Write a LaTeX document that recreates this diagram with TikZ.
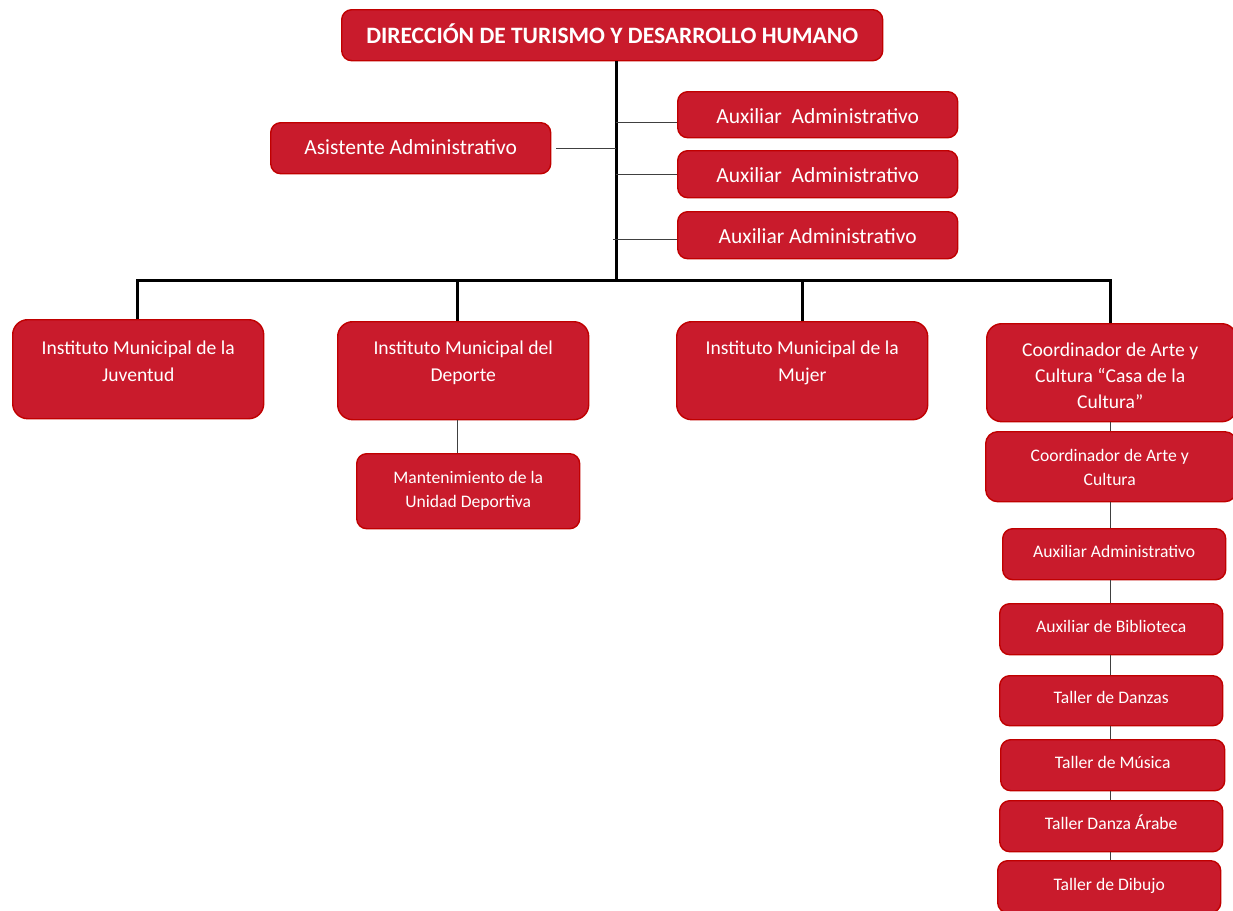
\documentclass[tikz,border=0pt]{standalone}
\usepackage{fontspec}
\setmainfont{Carlito}
\definecolor{boxred}{RGB}{201,27,44}
\definecolor{boxedge}{RGB}{192,0,0}
\newcommand\orgbox[6][10pt]{%
  \node[box, rounded corners=#1, anchor=north west, minimum width={#5-#3}, minimum height={#6-#4}] (#2) at (#3,#4) {};}
\begin{document}
\begin{tikzpicture}[x=1pt,y=-1pt,
  box/.style={draw=boxedge, fill=boxred, line width=1.4pt, inner sep=0pt},
  txt/.style={text=white, align=center, inner sep=0pt},
  ttl/.style={txt, font=\bfseries\fontsize{23.5}{28}\selectfont},
  big/.style={txt, font=\fontsize{19.6}{27}\selectfont},
  mid/.style={txt, font=\fontsize{21.5}{26}\selectfont},
  small/.style={txt, font=\fontsize{17.6}{24}\selectfont},
  trunk/.style={line width=3pt, black, line join=miter},
  thin/.style={line width=1pt, black!75}]
\useasboundingbox (0,0) rectangle (1233,910);

% boxes
\orgbox{top}{341}{9}{882}{60}
\orgbox{asis}{270}{122}{550}{173}
\orgbox{auxa}{677}{91}{957}{137}
\orgbox{auxb}{677}{150}{957}{197}
\orgbox{auxc}{677}{211}{957}{258}
\orgbox[15pt]{imj}{12}{319}{263}{418}
\orgbox[15pt]{imd}{337}{321}{588}{419}
\orgbox{mant}{356}{453}{579}{528}
\orgbox[15pt]{muj}{676}{321}{927}{419}
\orgbox[15pt]{casa}{986}{323}{1236}{421}
\orgbox[12pt]{coord}{985}{431}{1236}{501}
\orgbox{caux}{1002}{528}{1225}{579}
\orgbox{bib}{999}{603}{1222}{654}
\orgbox{danz}{999}{675}{1222}{725}
\orgbox{mus}{1000}{739}{1224}{790}
\orgbox{arab}{999}{800}{1222}{851}
\orgbox{dib}{997}{860}{1220}{912}

% texts
\node[ttl] (top-t) at ([yshift=1pt]top.center) {DIRECCIÓN DE TURISMO Y DESARROLLO HUMANO};
\node[mid] (asis-t) at ([yshift=1pt]asis.center) {Asistente Administrativo};
\node[mid] (auxa-t) at ([yshift=-1pt]auxa.center) {Auxiliar\ \ Administrativo};
\node[mid] (auxb-t) at ([yshift=-1pt]auxb.center) {Auxiliar\ \ Administrativo};
\node[mid] (auxc-t) at ([yshift=-1pt]auxc.center) {Auxiliar Administrativo};
\node[big] (imj-t) at ([yshift=8pt]imj.center) {Instituto Municipal de la\\Juventud};
\node[big] (imd-t) at ([yshift=7.5pt]imd.center) {Instituto Municipal del\\Deporte};
\node[small] (mant-t) at (mant.center) {Mantenimiento de la\\Unidad Deportiva};
\node[big] (muj-t) at ([yshift=7.5pt]muj.center) {Instituto Municipal de la\\Mujer};
\node[big, font=\fontsize{19.6}{26}\selectfont] (casa-t) at ([xshift=-1.5pt,yshift=-3.5pt]casa.center) {Coordinador de Arte y\\Cultura “Casa de la\\Cultura”};
\node[small] (coord-t) at ([xshift=-1.5pt,yshift=-1pt]coord.center) {Coordinador de Arte y\\Cultura};
\node[small] (caux-t) at ([yshift=3pt]caux.center) {Auxiliar Administrativo};
\node[small] (bib-t) at ([yshift=3pt]bib.center) {Auxiliar de Biblioteca};
\node[small] (danz-t) at ([yshift=3pt]danz.center) {Taller de Danzas};
\node[small] (mus-t) at ([yshift=3pt]mus.center) {Taller de Música};
\node[small] (arab-t) at ([yshift=4pt]arab.center) {Taller Danza Árabe};
\node[small] (dib-t) at ([yshift=1pt]dib.center) {Taller de Dibujo};

% trunk and bar
\coordinate (hub) at (616,280);
\coordinate (barL) at (137.5,280);
\coordinate (barR) at (1110,280);
\coordinate (imdx) at (457,280);
\draw[trunk] (top.south -| hub) -- (hub);
\draw[trunk] (imj.north -| barL) -- (barL) -- (barR) -- (casa.north -| barR);
\draw[trunk] (imdx) -- (imd.north -| imdx);
\draw[trunk] (muj.north |- hub) -- (muj.north);

% side connectors
\draw[thin] ([xshift=5pt]asis.east) -- (asis.east -| hub);
\draw[thin] ([yshift=-8pt]auxa.west -| hub) -- ([yshift=-8pt]auxa.west);
\draw[thin] (auxb.west -| hub) -- (auxb.west);
\draw[thin] ([xshift=-3pt,yshift=-4.5pt]auxc.west -| hub) -- ([yshift=-4.5pt]auxc.west);

% sub connectors
\draw[thin] (imd.south -| imdx) -- (mant.north -| imdx);
\draw[thin] (casa.south -| barR) -- (coord.north -| barR);
\draw[thin] (coord.south -| barR) -- (caux.north -| barR);
\draw[thin] (caux.south -| barR) -- (bib.north -| barR);
\draw[thin] (bib.south -| barR) -- (danz.north -| barR);
\draw[thin] (danz.south -| barR) -- (mus.north -| barR);
\draw[thin] (mus.south -| barR) -- (arab.north -| barR);
\draw[thin] (arab.south -| barR) -- (dib.north -| barR);
\end{tikzpicture}
\end{document}
